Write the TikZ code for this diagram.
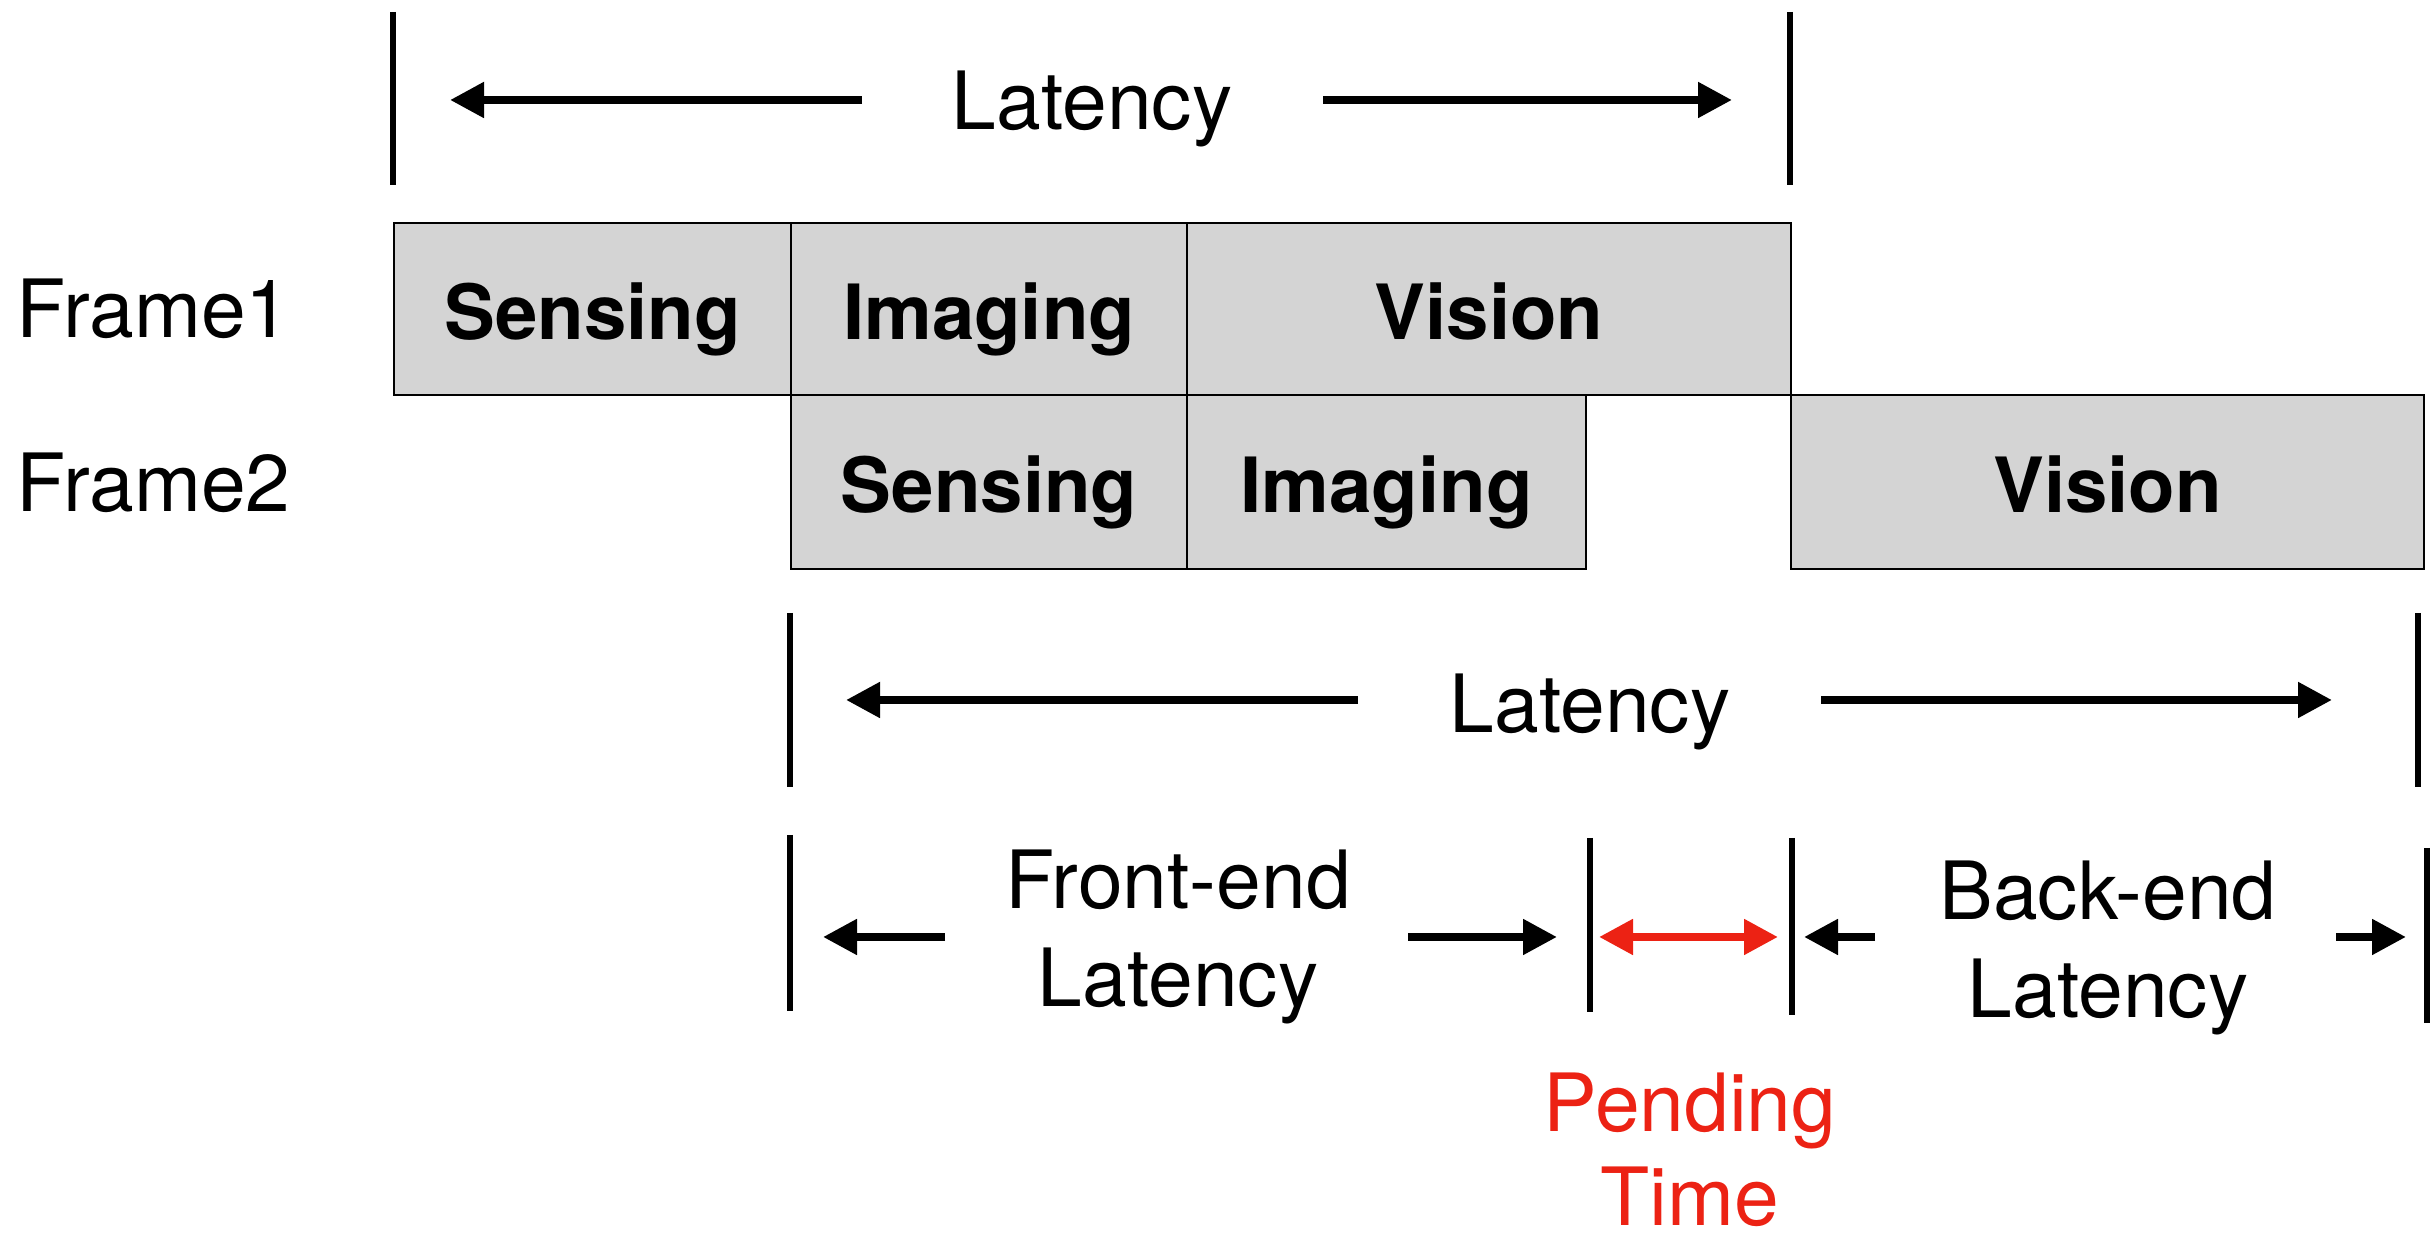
\documentclass[tikz,border=0pt]{standalone}
\usepackage{fontspec}
\setmainfont{TeX Gyre Heros}
\usetikzlibrary{arrows.meta}
\definecolor{boxgray}{RGB}{212,212,212}
\definecolor{pendred}{RGB}{236,34,20}
\begin{document}
\begin{tikzpicture}[x=0.25pt,y=-0.25pt,
  stage/.style={draw=black, line width=0.6pt, fill=boxgray, anchor=north west, inner sep=0pt,
    text height=15pt, text depth=0pt, font=\fontsize{19.05}{22}\selectfont\bfseries},
  lbl/.style={font=\fontsize{20.1}{23}\selectfont, anchor=base, inner sep=0pt},
  framelbl/.style={font=\fontsize{20.1}{23}\selectfont, anchor=base west, inner sep=0pt},
  tick/.style={line width=1.5pt},
  arr/.style={line width=2pt, -{Triangle[length=8.5pt,width=8.5pt]}},
  redarr/.style={line width=2pt, draw=pendred, fill=pendred, {Triangle[length=8.5pt,width=8.5pt]}-{Triangle[length=8.5pt,width=8.5pt]}}]
\useasboundingbox (0,0) rectangle (2434,1237);

% top latency
\coordinate (ta1) at (393,12);   \coordinate (ta2) at (393,185);
\coordinate (tb1) at (1790,12);  \coordinate (tb2) at (1790,185);
\draw[tick] (ta1) -- (ta2);
\draw[tick] (tb1) -- (tb2);
\coordinate (la1) at (862,100);  \coordinate (la2) at (450,100);
\coordinate (lb1) at (1323,100); \coordinate (lb2) at (1732,100);
\draw[arr] (la1) -- (la2);
\draw[arr] (lb1) -- (lb2);
\node[lbl] (lat1) at (1092,130) {Latency};

% frame labels
\node[framelbl] (fr1) at (16,338) {Frame1};
\node[framelbl] (fr2) at (16,512) {Frame2};

% frame 1 boxes
\node[stage, minimum width=99.25pt, minimum height=43pt] (f1s) at (393,222) {Sensing};
\node[stage, minimum width=99pt, minimum height=43pt] (f1i) at (790,222) {Imaging};
\node[stage, minimum width=151pt, minimum height=43pt] (f1v) at (1186,222) {Vision};
% frame 2 boxes
\node[stage, minimum width=99pt, minimum height=43.5pt] (f2s) at (790,394) {Sensing};
\node[stage, minimum width=99.75pt, minimum height=43.5pt] (f2i) at (1186,394) {Imaging};
\node[stage, minimum width=158.25pt, minimum height=43.5pt] (f2v) at (1790,394) {Vision};

% middle latency
\coordinate (ma1) at (790,613);  \coordinate (ma2) at (790,787);
\coordinate (mb1) at (2418,613); \coordinate (mb2) at (2418,787);
\draw[tick] (ma1) -- (ma2);
\draw[tick] (mb1) -- (mb2);
\coordinate (mla1) at (1358,700); \coordinate (mla2) at (846,700);
\coordinate (mlb1) at (1821,700); \coordinate (mlb2) at (2332,700);
\draw[arr] (mla1) -- (mla2);
\draw[arr] (mlb1) -- (mlb2);
\node[lbl] (lat2) at (1590,733) {Latency};

% bottom row
\coordinate (ba1) at (790,835);  \coordinate (ba2) at (790,1011);
\coordinate (bb1) at (1590,838); \coordinate (bb2) at (1590,1012);
\coordinate (bc1) at (1792,838); \coordinate (bc2) at (1792,1015);
\coordinate (bd1) at (2427,848); \coordinate (bd2) at (2427,1023);
\draw[tick] (ba1) -- (ba2);
\draw[tick] (bb1) -- (bb2);
\draw[tick] (bc1) -- (bc2);
\draw[tick] (bd1) -- (bd2);
\coordinate (fa1) at (945,937);  \coordinate (fa2) at (823,937);
\coordinate (fb1) at (1408,937); \coordinate (fb2) at (1557,937);
\coordinate (pa1) at (1599,937); \coordinate (pa2) at (1778,937);
\coordinate (ka1) at (1875,937); \coordinate (ka2) at (1804,937);
\coordinate (kb1) at (2336,937); \coordinate (kb2) at (2406,937);
\draw[arr] (fa1) -- (fa2);
\draw[arr] (fb1) -- (fb2);
\draw[redarr] (pa1) -- (pa2);
\draw[arr] (ka1) -- (ka2);
\draw[arr] (kb1) -- (kb2);
\node[lbl] (fe1) at (1178,909) {Front-end};
\node[lbl] (fe2) at (1178,1007) {Latency};
\node[lbl] (be1) at (2108,920) {Back-end};
\node[lbl] (be2) at (2108,1018) {Latency};
\node[lbl, text=pendred] (pt1) at (1690,1132) {Pending};
\node[lbl, text=pendred] (pt2) at (1690,1226) {Time};
\end{tikzpicture}
\end{document}
